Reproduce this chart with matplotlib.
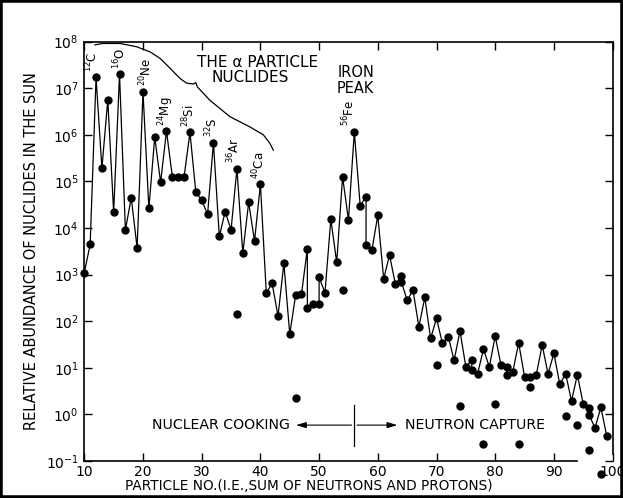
import matplotlib.pyplot as plt
import numpy as np
from matplotlib.patches import Rectangle
from matplotlib.ticker import NullLocator

plt.rcParams["font.family"] = "DejaVu Sans"
plt.rcParams["mathtext.default"] = "regular"

# mass number A and log10 of relative abundance, in the order the curve is drawn
# (some A appear twice where the curve runs through two isobars)
mass_line = [10, 11, 12, 13, 14, 15, 16, 17, 18, 19, 20, 21, 22, 23, 24, 25, 26, 27,
             28, 29, 30, 31, 32, 33, 34, 35, 36, 37, 38, 39, 40, 41, 42, 43, 44, 45,
             46, 47, 48, 48, 49, 50, 50, 51, 52, 53, 54, 55, 56, 57, 58, 58, 59, 60,
             61, 62, 63, 64, 64, 65, 66, 67, 68, 69, 70, 71, 72, 73, 74, 75, 76, 76,
             77, 78, 79, 80, 81, 82, 82, 83, 84, 85, 86, 87, 88, 89, 90, 91, 92, 93,
             94, 95, 96, 96, 97, 98, 99]
log_line = [3.04, 3.65, 7.23, 5.28, 6.75, 4.34, 7.30, 3.96, 4.65, 3.57, 6.92, 4.42,
            5.95, 4.98, 6.08, 5.10, 5.10, 5.10, 6.05, 4.77, 4.60, 4.29, 5.83, 3.82,
            4.35, 3.96, 5.27, 3.46, 4.55, 3.72, 4.94, 2.61, 2.81, 2.11, 3.24, 1.72,
            2.56, 2.58, 3.56, 2.29, 2.36, 2.36, 2.94, 2.61, 4.19, 3.26, 5.10, 4.17,
            6.06, 4.48, 4.67, 3.64, 3.53, 4.27, 2.91, 3.42, 2.79, 2.98, 2.85, 2.45,
            2.66, 1.88, 2.51, 1.63, 2.06, 1.53, 1.67, 1.16, 1.79, 1.02, 1.17, 0.95,
            0.87, 1.40, 1.02, 1.68, 1.05, 1.01, 0.85, 0.92, 1.53, 0.81, 0.81, 0.85,
            1.49, 0.87, 1.31, 0.65, 0.87, 0.29, 0.85, 0.22, 0.13, -0.01, -0.29, 0.15,
            -0.46]

# rarer isobars, plotted as loose dots
mass_iso = [36, 46, 54, 70, 74, 78, 80, 84, 86, 92, 94, 96, 98]
log_iso = [2.15, 0.35, 2.68, 1.06, 0.18, -0.64, 0.22, -0.64, 0.59, -0.03, -0.23,
           -0.76, -1.28]

# named nuclides
tag_mass = [12, 16, 20, 24, 28, 32, 36, 40, 56]
tag_text = [r"$^{12}$C", r"$^{16}$O", r"$^{20}$Ne", r"$^{24}$Mg", r"$^{28}$Si",
            r"$^{32}$S", r"$^{36}$Ar", r"$^{40}$Ca", r"$^{56}$Fe"]
tag_dx = [-3, 0, 2, 0, -1, -1, -2, -1, -4]

# hand-drawn bracket over the alpha-particle nuclides (A, log10)
brace_mass = [11.8, 13.2, 16.1, 18.9, 21.2, 22.9, 24.6, 26.3, 27.4, 28.6, 29.0,
              29.25, 31.4, 34.8, 38.2, 40.5, 41.6, 42.2]
brace_log = [7.93, 7.96, 7.96, 7.89, 7.78, 7.64, 7.43, 7.21, 7.11, 7.09, 7.12,
             7.03, 6.74, 6.39, 6.17, 6.00, 5.82, 5.67]

split_mass = 56

W, H = 623, 498
fig = plt.figure(figsize=(W / 100, H / 100), dpi=100)
ax = fig.add_axes([84.3 / W, 1 - 461 / H, (612.6 - 84.3) / W, (461 - 41.6) / H])

y_line = 10.0 ** np.array(log_line)
ax.plot(mass_line, y_line, color="black", lw=0.9, marker="o", ms=5,
        mfc="black", mec="black", clip_on=False, zorder=3)
ax.plot(mass_iso, 10.0 ** np.array(log_iso), ls="none", marker="o", ms=5,
        color="black", clip_on=False, zorder=3)
ax.plot(brace_mass, 10.0 ** np.array(brace_log), color="black", lw=0.9)

for m, txt, dx in zip(tag_mass, tag_text, tag_dx):
    v = y_line[mass_line.index(m)]
    ax.annotate(txt, (m, v), xytext=(dx, 4), textcoords="offset points",
                rotation=90, ha="center", va="bottom", fontsize=8.5)

ax.text(39.6, 10 ** 7.56, "THE α PARTICLE", ha="center", va="center", fontsize=11)
ax.text(38.2, 10 ** 7.23, "NUCLIDES", ha="center", va="center", fontsize=11)
ax.text(56.3, 10 ** 7.33, "IRON", ha="center", va="center", fontsize=10.5)
ax.text(56.2, 10 ** 7.00, "PEAK", ha="center", va="center", fontsize=10.5)

# nuclear cooking / neutron capture divider
y_arrow = 10 ** -0.23
ax.plot([split_mass, split_mass], [10 ** 0.20, 10 ** -0.68], color="black", lw=0.9)
ax.annotate("", xy=(45.6, y_arrow), xytext=(split_mass, y_arrow),
            arrowprops=dict(arrowstyle="-|>,head_length=0.6,head_width=0.18",
                            color="black", lw=0.8))
ax.annotate("", xy=(63.8, y_arrow), xytext=(split_mass, y_arrow),
            arrowprops=dict(arrowstyle="-|>,head_length=0.6,head_width=0.18",
                            color="black", lw=0.8))
ax.text(45.0, y_arrow, "NUCLEAR COOKING", ha="right", va="center", fontsize=10.2)
ax.text(64.6, y_arrow, "NEUTRON CAPTURE", ha="left", va="center", fontsize=10.2)

ax.set_yscale("log")
ax.set_xlim(10, 100)
ax.set_ylim(1e-1, 1e8)
ax.set_xticks(range(10, 101, 10))
ax.set_yticks([10.0 ** k for k in range(-1, 9)])
ax.yaxis.set_minor_locator(NullLocator())
ax.tick_params(which="both", direction="in", top=True, right=True, length=6,
               width=1, labelsize=10, color="black")
ax.tick_params(axis="x", pad=3)
ax.tick_params(axis="y", pad=4)
for side in ax.spines.values():
    side.set_linewidth(1.2)
ax.spines["bottom"].set_bounds(10, 94)
ax.spines["right"].set_bounds(10 ** -0.85, 1e8)

ax.set_xlabel("PARTICLE NO.(I.E.,SUM OF NEUTRONS AND PROTONS)", fontsize=9.8)
ax.xaxis.set_label_coords(0.425, -0.044)
ax.set_ylabel("RELATIVE ABUNDANCE OF NUCLIDES IN THE SUN", fontsize=10.5,
              labelpad=5)

fig.patches.append(Rectangle((0, 0), 1, 1, transform=fig.transFigure, fill=False,
                             lw=4, ec="black"))

fig.savefig("out.png", dpi=100)
